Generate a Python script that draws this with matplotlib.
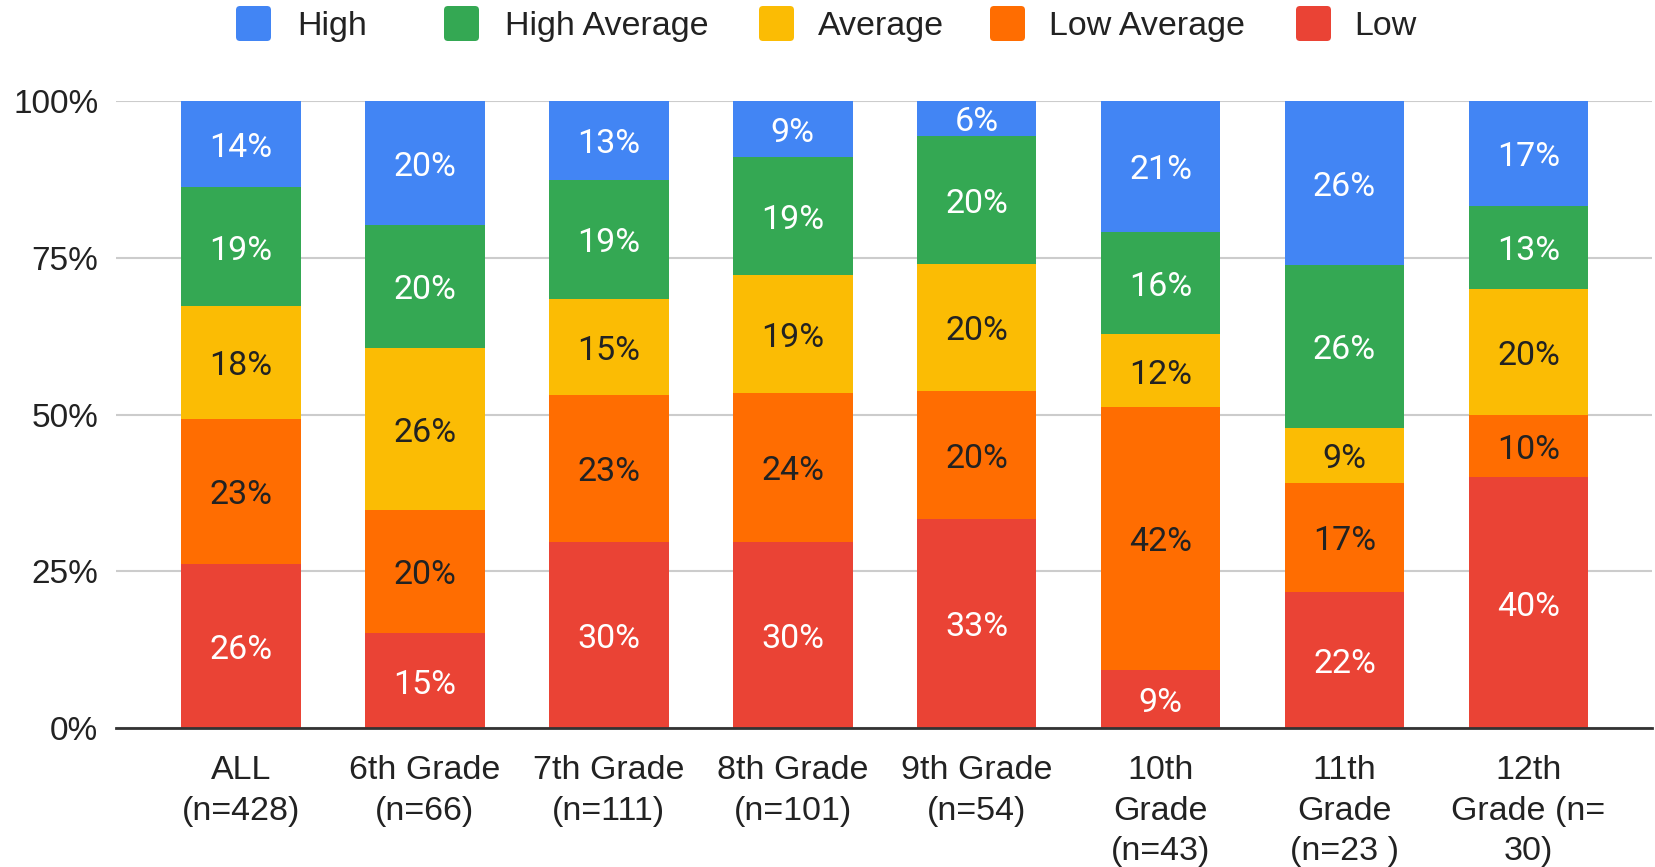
import matplotlib
matplotlib.use("Agg")
import matplotlib.pyplot as plt
import numpy as np
from matplotlib.patches import FancyBboxPatch
from matplotlib.transforms import IdentityTransform

categories = ["ALL\n(n=428)", "6th Grade\n(n=66)", "7th Grade\n(n=111)", "8th Grade\n(n=101)",
              "9th Grade\n(n=54)", "10th\nGrade\n(n=43)", "11th\nGrade\n(n=23 )", "12th\nGrade (n=\n30)"]
n_students = [428, 66, 111, 101, 54, 43, 23, 30]

# counts per performance level (bottom to top of stack)
low = [112, 10, 33, 30, 18, 4, 5, 12]
low_average = [99, 13, 26, 24, 11, 18, 4, 3]
average = [77, 17, 17, 19, 11, 5, 2, 6]
high_average = [81, 13, 21, 19, 11, 7, 6, 4]
high = [59, 13, 14, 9, 3, 9, 6, 5]

series_names = ["Low", "Low Average", "Average", "High Average", "High"]
series_vals = [low, low_average, average, high_average, high]
colors = ["#EA4335", "#FF6D01", "#FBBC04", "#34A853", "#4285F4"]
text_colors = ["white", "#222222", "#222222", "white", "white"]

legend_labels = ["High", "High Average", "Average", "Low Average", "Low"]
legend_colors = ["#4285F4", "#34A853", "#FBBC04", "#FF6D01", "#EA4335"]

plt.rcParams['font.family'] = ['Liberation Sans', 'DejaVu Sans']

W, H = 1655, 867
fig = plt.figure(figsize=(W / 100, H / 100), dpi=100)
ax = fig.add_axes([0.070, 0.160, 0.928, 0.7235])

x = np.arange(len(categories))
n = np.array(n_students, dtype=float)
bottom = np.zeros(len(categories))
for name, vals, c, tc in zip(series_names, series_vals, colors, text_colors):
    frac = np.array(vals) / n
    ax.bar(x, frac, width=0.65, bottom=bottom, color=c, label=name, zorder=3, linewidth=0)
    for xi, b, f in zip(x, bottom, frac):
        ax.text(xi, b + f / 2 - 0.006, f"{int(round(f * 100))}%", ha="center", va="center",
                color=tc, fontsize=24.5, family=['Roboto', 'DejaVu Sans'], zorder=4)
    bottom += frac

ax.set_xlim(-0.68, 7.67)
ax.set_ylim(0, 1.0)
ax.set_yticks([0, 0.25, 0.5, 0.75, 1.0])
ax.set_yticklabels(["0%", "25%", "50%", "75%", "100%"])
ax.grid(axis="y", color="#cccccc", linewidth=1.5, zorder=0)
ax.set_axisbelow(True)
for s in ["top", "right", "left"]:
    ax.spines[s].set_visible(False)
ax.spines["bottom"].set_color("#333333")
ax.spines["bottom"].set_linewidth(2)
ax.spines["bottom"].set_zorder(5)
ax.set_xticks(x)
ax.set_xticklabels(categories, linespacing=1.41)
ax.tick_params(axis="x", length=0, pad=19, labelsize=24.5, colors="#222222")
ax.tick_params(axis="y", length=0, pad=12.5, labelsize=24, colors="#222222")

# legend drawn in pixel coordinates to follow the reference spacing
sq_left = [236, 444, 759, 990, 1296]
txt_left = [297, 505, 818, 1049, 1354]
sq_size = 35
sq_top = 6
r = 4
for lbl, c, sx, tx in zip(legend_labels, legend_colors, sq_left, txt_left):
    y0 = H - sq_top - sq_size
    patch = FancyBboxPatch((sx + r, y0 + r), sq_size - 2 * r, sq_size - 2 * r,
                           boxstyle=f"round,pad={r}", facecolor=c, edgecolor="none",
                           transform=IdentityTransform())
    fig.add_artist(patch)
    fig.text(tx, H - 35, lbl, transform=IdentityTransform(), fontsize=24.5,
             color="#222222", ha="left", va="baseline")

fig.savefig("out.png", dpi=100)
